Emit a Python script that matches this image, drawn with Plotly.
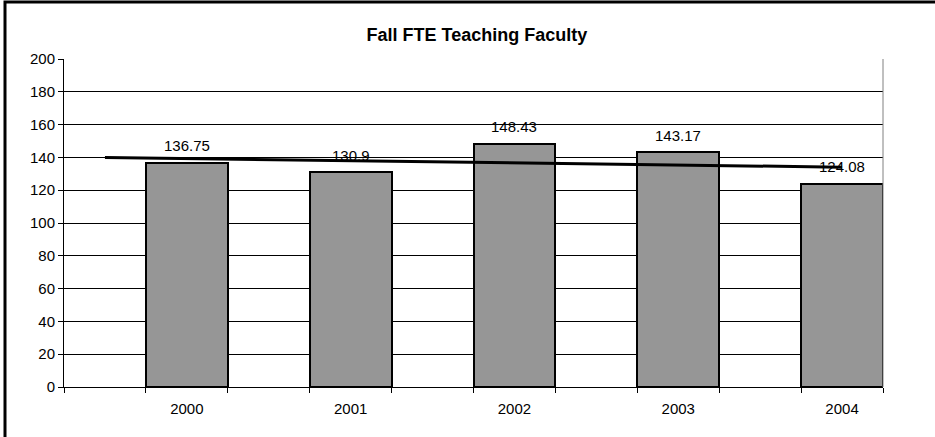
import numpy as np
import plotly.graph_objects as go

# ---- data ----
years = ["2000", "2001", "2002", "2003", "2004"]
fte = [136.75, 130.9, 148.43, 143.17, 124.08]
label_text = ["136.75", "130.9", "148.43", "143.17", "124.08"]
y_ticks = [0, 20, 40, 60, 80, 100, 120, 140, 160, 180, 200]
title_text = "Fall FTE Teaching Faculty"

# bars sit on every other slot of a 10-slot category axis
pos = [1, 3, 5, 7, 9]

# linear trend fitted on the bar positions, drawn from slot 0 to slot 9
slope, intercept = np.polyfit(pos, fte, 1)
trend_x = [0, 9]
trend_y = [intercept + slope * x for x in trend_x]

FONT = "Liberation Sans, Arial, sans-serif"

fig = go.Figure()
fig.add_trace(go.Bar(
    x=pos, y=fte, width=1,
    marker=dict(color="#969696", line=dict(color="black", width=2)),
    hoverinfo="skip", showlegend=False,
))
fig.add_trace(go.Scatter(
    x=trend_x, y=trend_y, mode="lines",
    line=dict(color="black", width=3),
    hoverinfo="skip", showlegend=False,
))

for x, v, t in zip(pos, fte, label_text):
    fig.add_annotation(x=x, y=v, text=t, showarrow=False,
                       yanchor="middle", yshift=17,
                       font=dict(family=FONT, size=15, color="black"))

W, H = 935, 437
ml, mr, mt, mb = 64, 52, 59, 50
pw, ph = W - ml - mr, H - mt - mb

# outer chart border (top and left visible)
fig.add_shape(type="rect", xref="paper", yref="paper",
              x0=(5 - ml) / pw, x1=2, y0=-1, y1=1 + (mt - 2) / ph,
              line=dict(color="black", width=3), fillcolor="rgba(0,0,0,0)", layer="above")
# right edge of plot area
fig.add_shape(type="line", xref="paper", yref="paper",
              x0=1, x1=1, y0=0, y1=1, line=dict(color="#808080", width=1))

fig.update_layout(
    width=W, height=H,
    margin=dict(l=ml, r=mr, t=mt, b=mb),
    paper_bgcolor="white", plot_bgcolor="white",
    font=dict(family=FONT, size=15, color="black"),
    title=dict(text="<b>" + title_text + "</b>", x=0.51, xanchor="center",
               y=1 - 35 / H, yanchor="middle", yref="container",
               font=dict(family=FONT, size=18, color="black")),
    bargap=0,
)
fig.update_xaxes(
    range=[-0.5, 9.5], tickmode="array", tickvals=pos, ticktext=years,
    ticks="", showgrid=False, zeroline=False,
    showline=True, linecolor="black", linewidth=1,
    minor=dict(tickmode="array", tickvals=[i - 0.5 for i in range(11)],
               ticks="outside", ticklen=5, tickcolor="black", showgrid=False),
    tickfont=dict(size=15), ticklabelstandoff=8, fixedrange=True,
)
fig.update_yaxes(
    range=[0, 200], tickmode="array", tickvals=y_ticks,
    ticks="outside", ticklen=5, tickcolor="black",
    showgrid=True, gridcolor="black", gridwidth=1, zeroline=False,
    showline=True, linecolor="black", linewidth=1,
    tickfont=dict(size=15), fixedrange=True,
)

fig.write_html("out.html", config={"displayModeBar": False},
               post_script="document.body.style.margin='0';document.body.style.overflow='hidden';")
